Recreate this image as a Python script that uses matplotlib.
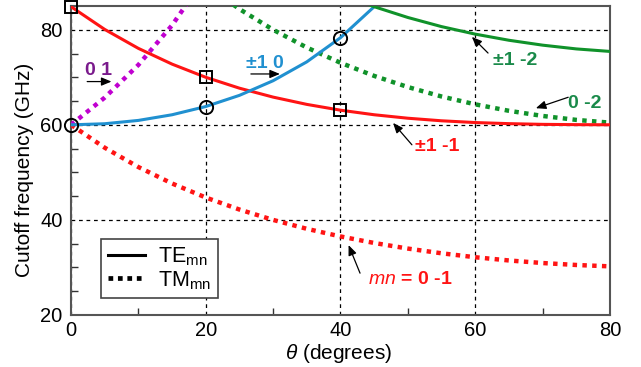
import matplotlib
matplotlib.use("Agg")
import matplotlib.pyplot as plt
from matplotlib.lines import Line2D
from matplotlib.ticker import MultipleLocator

plt.rcParams["font.family"] = ["Liberation Sans", "DejaVu Sans"]
plt.rcParams["mathtext.fontset"] = "custom"
plt.rcParams["mathtext.rm"] = "Liberation Sans"
plt.rcParams["mathtext.it"] = "Liberation Sans:italic"
plt.rcParams["mathtext.bf"] = "Liberation Sans:bold"

# Scan angle (degrees) and cutoff frequencies (GHz) of the Floquet modes
theta = [0, 5, 10, 15, 20, 25, 30, 35, 40, 45, 50, 55, 60, 65, 70, 75, 80]

te_pm1_m1 = [84.85, 80.07, 76.08, 72.77, 70.00, 67.71, 65.83, 64.30, 63.08,
             62.12, 61.39, 60.85, 60.48, 60.25, 60.10, 60.04, 60.01]
tm_0_m1 = [60.00, 55.19, 51.12, 47.66, 44.71, 42.18, 40.00, 38.13, 36.52,
           35.15, 33.97, 32.98, 32.15, 31.47, 30.93, 30.52, 30.23]

theta_01 = [0, 5, 10, 15, 20]
tm_0_1 = [60.00, 65.73, 72.61, 80.95, 91.19]

theta_pm10 = [0, 5, 10, 15, 20, 25, 30, 35, 40, 45, 50]
te_pm1_0 = [60.00, 60.23, 60.93, 62.12, 63.85, 66.20, 69.28, 73.25, 78.33,
            84.85, 93.34]

theta_0m2 = [20, 25, 30, 35, 40, 45, 50, 55, 60, 65, 70, 75, 80]
tm_0_m2 = [89.42, 84.35, 80.00, 76.26, 73.05, 70.29, 67.95, 65.96, 64.31,
           62.95, 61.87, 61.04, 60.46]

theta_pm1m2 = [40, 45, 50, 55, 60, 65, 70, 75, 80]
te_pm1_m2 = [87.53, 84.85, 82.58, 80.66, 79.08, 77.79, 76.76, 75.97, 75.44]

# Highlighted design points
sq_theta = [0, 20, 40]
sq_freq = [84.85, 70.00, 63.08]
ci_theta = [0, 20, 40]
ci_freq = [60.00, 63.85, 78.33]

RED = "#ff1414"
BLUE = "#2090d0"
GREEN = "#10922a"
PURPLE = "#c000d0"
GREEN_TXT = "#1a8a4a"
PURPLE_TXT = "#7a1a8c"

fig = plt.figure(figsize=(6.41, 3.67), dpi=100)
ax = fig.add_axes([0.1108, 0.1417, 0.8408, 0.8420])

dot = dict(linestyle=(0, (1.0, 1.2)), linewidth=3.2, dash_capstyle="butt")
sol = dict(linestyle="-", linewidth=2.2)

ax.plot(theta, tm_0_m1, color=RED, **dot, zorder=3)
ax.plot(theta_01, tm_0_1, color=PURPLE, **dot, zorder=3)
ax.plot(theta_0m2, tm_0_m2, color=GREEN, **dot, zorder=3)
ax.plot(theta, te_pm1_m1, color=RED, **sol, zorder=4)
ax.plot(theta_pm10, te_pm1_0, color=BLUE, **sol, zorder=4)
ax.plot(theta_pm1m2, te_pm1_m2, color=GREEN, **sol, zorder=4)

ax.plot(sq_theta, sq_freq, linestyle="none", marker="s", markersize=9,
        markerfacecolor="none", markeredgecolor="black", markeredgewidth=1.4,
        zorder=6, clip_on=False)
ax.plot(ci_theta, ci_freq, linestyle="none", marker="o", markersize=9.5,
        markerfacecolor="none", markeredgecolor="black", markeredgewidth=1.4,
        zorder=6, clip_on=False)

ax.set_xlim(0, 80)
ax.set_ylim(20, 85)
ax.xaxis.set_major_locator(MultipleLocator(20))
ax.xaxis.set_minor_locator(MultipleLocator(10))
ax.yaxis.set_major_locator(MultipleLocator(20))
ax.yaxis.set_minor_locator(MultipleLocator(5))
ax.tick_params(which="both", direction="in", colors="#333333",
               labelcolor="black", labelsize=14.5)
ax.tick_params(which="major", length=0)
ax.tick_params(axis="y", which="major", pad=6)
ax.tick_params(axis="x", which="major", pad=4)
ax.tick_params(which="minor", length=5, width=1)
ax.grid(True, which="major", color="black", linestyle=(0, (3, 3)),
        linewidth=0.9)
for s in ax.spines.values():
    s.set_color("#555555")
    s.set_linewidth(1.5)

ax.set_xlabel(r"$\it{\theta}$ (degrees)", fontsize=15, va="top")
ax.set_ylabel("Cutoff frequency (GHz)", fontsize=15, va="bottom")
ax.xaxis.set_label_coords(0.497, -0.087)
ax.yaxis.set_label_coords(-0.069, 0.469)

# Mode labels with pointer arrows
arrow = dict(arrowstyle="-|>,head_length=0.6,head_width=0.25", color="black",
             lw=0.9, shrinkA=0, shrinkB=0)
lab = dict(fontsize=14, fontweight="bold", ha="left", va="baseline")

ax.annotate("", xy=(6.0, 69.1), xytext=(2.4, 69.1), arrowprops=arrow)
ax.text(2.1, 70.5, "0 1", color=PURPLE_TXT, **lab)
ax.annotate("", xy=(31.0, 70.7), xytext=(26.7, 70.7), arrowprops=arrow)
ax.text(25.9, 71.9, "±1 0", color=BLUE, **lab)
ax.annotate("", xy=(59.5, 78.5), xytext=(61.9, 75.1), arrowprops=arrow)
ax.text(62.7, 72.6, "±1 -2", color=GREEN_TXT, **lab)
ax.annotate("", xy=(69.0, 63.5), xytext=(73.8, 65.8), arrowprops=arrow)
ax.text(73.7, 63.5, "0 -2", color=GREEN_TXT, **lab)
ax.annotate("", xy=(47.8, 60.4), xytext=(50.6, 55.8), arrowprops=arrow)
ax.text(51.1, 54.4, "±1 -1", color=RED, **lab)
ax.annotate("", xy=(41.2, 34.7), xytext=(42.9, 28.8), arrowprops=arrow)
ax.text(44.1, 26.5, r"$\bf{\it{mn}}$ = 0 -1", color=RED, **lab)

handles = [Line2D([], [], color="black", **sol),
           Line2D([], [], color="black", linestyle=(0, (1.0, 1.0)),
                  linewidth=3.4, dash_capstyle="butt")]
leg = ax.legend(handles, [r"TE$_{\mathrm{mn}}$", r"TM$_{\mathrm{mn}}$"],
                loc="lower left", bbox_to_anchor=(0.056, 0.055),
                borderaxespad=0, fontsize=15.5, fancybox=False, framealpha=1,
                edgecolor="#444444", handlelength=1.75, handletextpad=0.6,
                labelspacing=0.05, borderpad=0.3)
leg.get_frame().set_linewidth(1.2)
leg.set_zorder(10)

fig.savefig("out.png", dpi=100)
